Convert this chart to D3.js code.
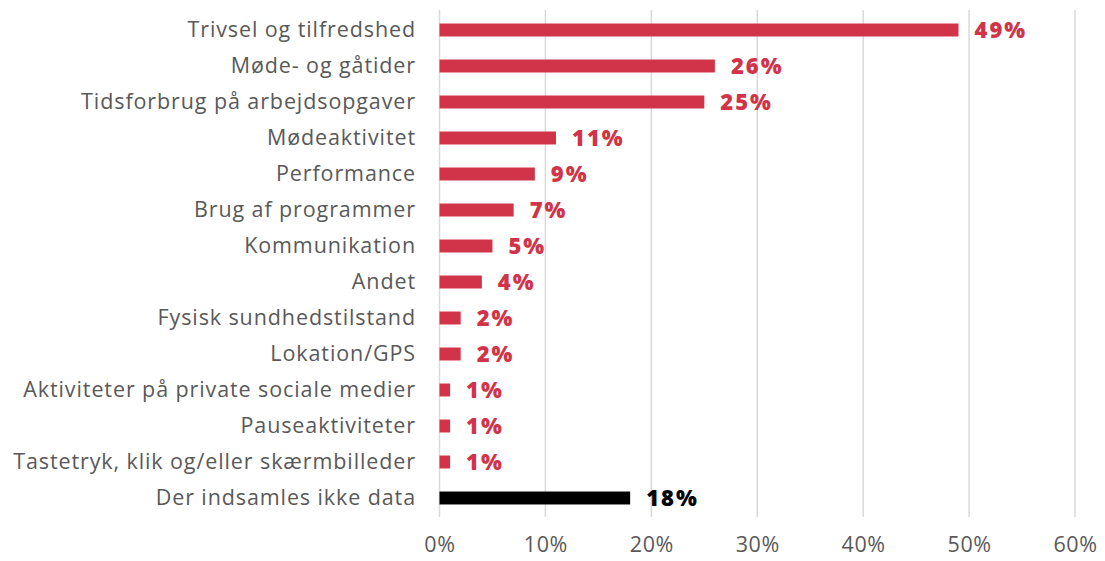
<!DOCTYPE html>
<html><head><meta charset="utf-8">
<script src="https://cdn.jsdelivr.net/npm/d3@7"></script>
<style>body{margin:0;background:#fff}svg{display:block}</style>
</head><body>
<svg id="c" width="1105" height="561"></svg>
<script>
const categories = ["Trivsel og tilfredshed","Møde- og gåtider","Tidsforbrug på arbejdsopgaver","Mødeaktivitet","Performance","Brug af programmer","Kommunikation","Andet","Fysisk sundhedstilstand","Lokation/GPS","Aktiviteter på private sociale medier","Pauseaktiviteter","Tastetryk, klik og/eller skærmbilleder","Der indsamles ikke data"];
const values = [49,26,25,11,9,7,5,4,2,2,1,1,1,18];
const highlight = [false,false,false,false,false,false,false,false,false,false,false,false,false,true];
const ticks = [0,10,20,30,40,50,60];

const red = "#d13449", black = "#000000", gray = "#595959";
const font = "'Open Sans', sans-serif";
const svg = d3.select("#c");
const x = d3.scaleLinear().domain([0,60]).range([439.5,1075]);
const y = d3.scaleBand().domain(categories).range([12,516]).paddingInner(0.64).paddingOuter(0.32);

svg.append("g").selectAll("line").data(ticks).join("line")
  .attr("x1", d=>x(d)).attr("x2", d=>x(d)).attr("y1", 10).attr("y2", 517)
  .attr("stroke", "#d9d9d9").attr("stroke-width", 1.5);

const xa = svg.append("g").attr("transform","translate(0,517)")
  .call(d3.axisBottom(x).tickValues(ticks).tickFormat(d=>d+"%").tickSize(0).tickPadding(20));
xa.select(".domain").remove();
xa.selectAll("text").attr("fill", gray).style("font-family", font).style("font-size","21.5px")
  .style("font-weight","400").style("letter-spacing","0.6px");

const ya = svg.append("g").attr("transform","translate(416,0)")
  .call(d3.axisLeft(y).tickSize(0).tickPadding(0));
ya.select(".domain").remove();
ya.selectAll("text").attr("fill", gray).style("font-family", font).style("font-size","21.5px")
  .style("font-weight","400").style("letter-spacing","0.9px");

svg.append("g").selectAll("rect").data(values).join("rect")
  .attr("x", x(0)).attr("y", (d,i)=>y(categories[i]))
  .attr("width", d=>x(d)-x(0)).attr("height", y.bandwidth())
  .attr("fill", (d,i)=>highlight[i]?black:red);

svg.append("g").selectAll("text").data(values).join("text")
  .attr("x", d=>x(d)+16).attr("y", (d,i)=>y(categories[i])+y.bandwidth()/2)
  .attr("dy","0.35em")
  .attr("fill", (d,i)=>highlight[i]?black:red)
  .style("font-family", font).style("font-size","22px").style("font-weight","800")
  .style("letter-spacing","2px")
  .text(d=>d+"%");
</script>
</body></html>
